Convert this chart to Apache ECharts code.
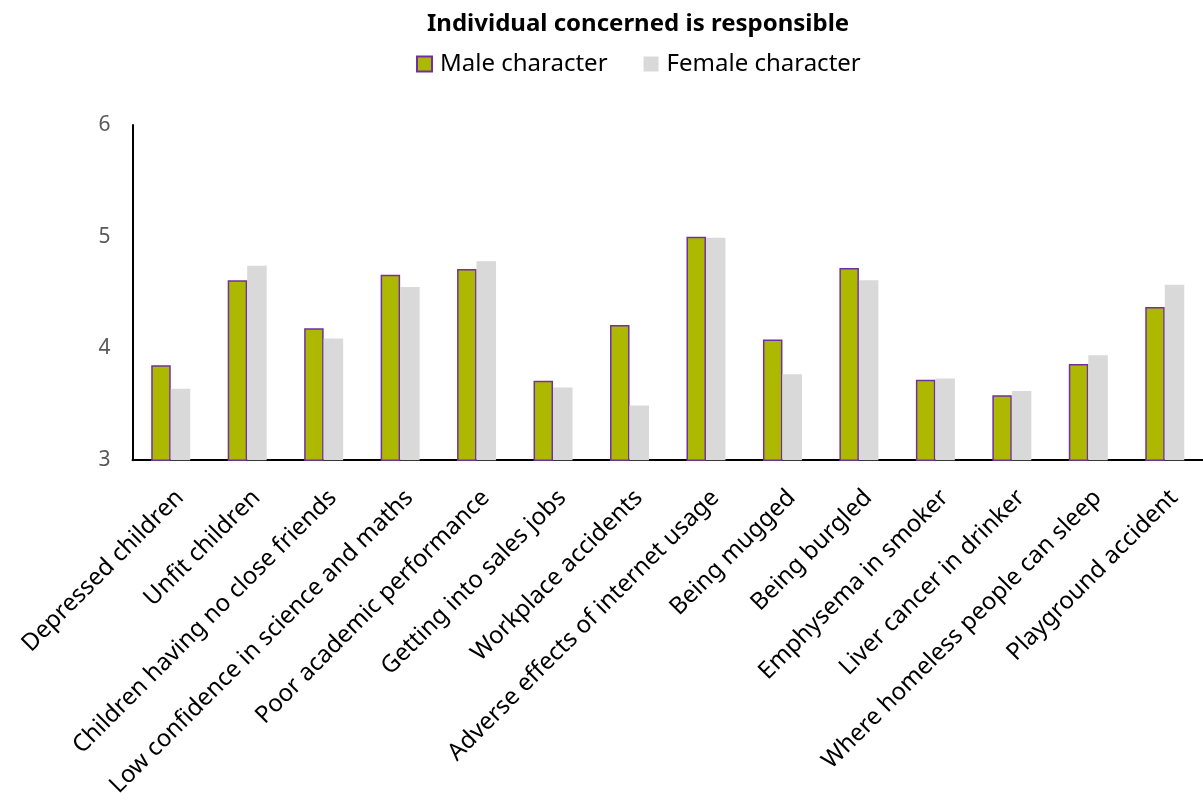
<!DOCTYPE html>
<html>
<head>
<meta charset="utf-8">
<style>
  html, body { margin: 0; padding: 0; background: #ffffff; }
  #chart { width: 1203px; height: 800px; }
</style>
<script src="https://cdn.jsdelivr.net/npm/echarts@6/dist/echarts.min.js"></script>
</head>
<body>
<div id="chart"></div>
<script>
// Situations rated for how responsible the individual concerned is
const categories = [
  'Depressed children',
  'Unfit children',
  'Children having no close friends',
  'Low confidence in science and maths',
  'Poor academic performance',
  'Getting into sales jobs',
  'Workplace accidents',
  'Adverse effects of internet usage',
  'Being mugged',
  'Being burgled',
  'Emphysema in smoker',
  'Liver cancer in drinker',
  'Where homeless people can sleep',
  'Playground accident'
];

// Mean ratings per character gender
const maleValues   = [3.85, 4.61, 4.18, 4.66, 4.71, 3.71, 4.21, 5.00, 4.08, 4.72, 3.72, 3.58, 3.86, 4.37];
const femaleValues = [3.64, 4.74, 4.09, 4.55, 4.78, 3.65, 3.49, 4.99, 3.77, 4.61, 3.73, 3.62, 3.94, 4.57];

const yTicks = { min: 3, max: 6, interval: 1 };

const FONT = '"Noto Sans", "Open Sans", sans-serif';

const chart = echarts.init(document.getElementById('chart'), null, { renderer: 'canvas' });

chart.setOption({
  animation: false,
  backgroundColor: '#ffffff',
  title: {
    text: 'Individual concerned is responsible',
    left: 427,
    top: 12,
    padding: 0,
    textStyle: { fontFamily: FONT, fontSize: 24, fontWeight: 'bold', color: '#000000' }
  },
  legend: {
    top: 52,
    left: 416,
    padding: 0,
    icon: 'rect',
    itemWidth: 15,
    itemHeight: 15,
    itemGap: 36,
    textStyle: { fontFamily: FONT, fontSize: 24, color: '#000000', padding: [0, 0, 0, 3] },
    data: ['Male character', 'Female character']
  },
  grid: {
    left: 132.5,
    width: 1076,
    top: 125,
    bottom: 336.5,
    containLabel: false
  },
  xAxis: {
    type: 'category',
    data: categories,
    axisLine: { lineStyle: { color: '#000000', width: 2 } },
    axisTick: { show: false },
    axisLabel: {
      rotate: 45,
      interval: 0,
      margin: 43,
      padding: [0, -13, 0, 0],
      fontFamily: FONT,
      fontSize: 24,
      color: '#000000'
    }
  },
  yAxis: {
    type: 'value',
    min: yTicks.min,
    max: yTicks.max,
    interval: yTicks.interval,
    axisLine: { show: true, lineStyle: { color: '#000000', width: 2 } },
    axisTick: { show: false },
    splitLine: { show: false },
    axisLabel: {
      margin: 22,
      fontFamily: FONT,
      fontSize: 21,
      color: '#595959'
    }
  },
  series: [
    {
      name: 'Male character',
      type: 'bar',
      data: maleValues,
      barWidth: 19.5,
      barGap: '0%',
      itemStyle: { color: '#adb900', borderColor: '#7030a0', borderWidth: 1.5 }
    },
    {
      name: 'Female character',
      type: 'bar',
      data: femaleValues,
      barWidth: 19.5,
      barGap: '0%',
      itemStyle: { color: '#d9d9d9' }
    }
  ]
});
</script>
</body>
</html>
